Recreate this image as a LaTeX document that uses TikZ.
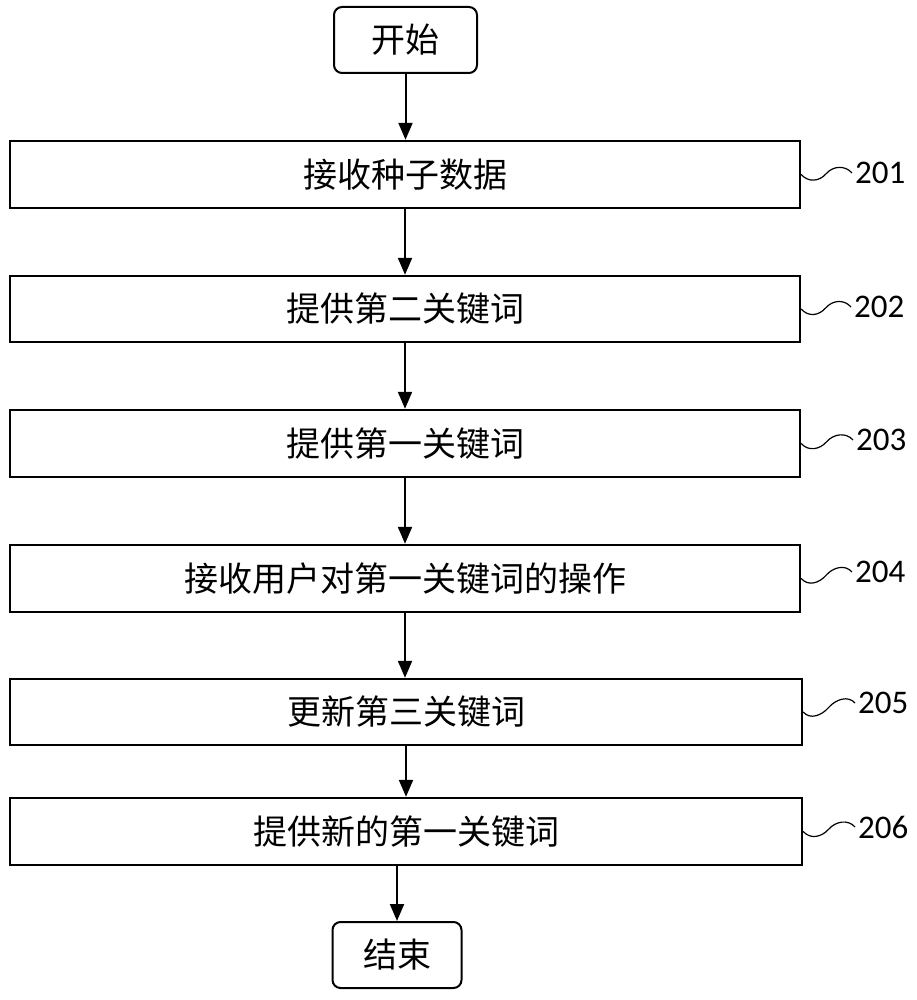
\documentclass[tikz,border=0pt]{standalone}
\usepackage{fontspec}
\newfontfamily\cjk{Noto Sans CJK SC}
\newfontfamily\numfont{Carlito}
\usetikzlibrary{arrows.meta,calc}
\begin{document}
\begin{tikzpicture}[x=1pt,y=1pt,
  stepbox/.style={draw,line width=2.4pt,minimum height=67pt,minimum width=790pt,inner sep=0pt,
     font=\cjk\fontsize{34}{40}\selectfont},
  termbox/.style={draw,line width=2pt,rounded corners=8pt,minimum height=66pt,inner sep=0pt,
     font=\cjk\fontsize{34}{40}\selectfont},
  lab/.style={anchor=west,inner sep=0pt,font=\numfont\fontsize{33}{38}\selectfont},
  flow/.style={line width=2pt,-{Triangle[length=17pt,width=14pt]}},
  squig/.style={line width=1.2pt}]
\useasboundingbox (0,0) rectangle (917,-1000);
\node[termbox,minimum width=143pt] (s) at (405.5,-40) {开始};
\node[stepbox] (b1) at (405,-174.5) {接收种子数据};
\node[stepbox,minimum height=66pt] (b2) at (405,-309) {提供第二关键词};
\node[stepbox] (b3) at (405,-443.5) {提供第一关键词};
\node[stepbox] (b4) at (405,-578.5) {接收用户对第一关键词的操作};
\node[stepbox,minimum height=66pt,minimum width=792pt] (b5) at (406,-712) {更新第三关键词};
\node[stepbox,minimum width=792pt] (b6) at (406,-831.5) {提供新的第一关键词};
\node[termbox,minimum width=129pt] (e) at (397,-955) {结束};
\node[lab] (l1) at (855,-173) {201};
\node[lab] (l2) at (854,-307) {202};
\node[lab] (l3) at (856,-440) {203};
\node[lab] (l4) at (855,-572) {204};
\node[lab] (l5) at (858,-703) {205};
\node[lab] (l6) at (858,-827) {206};
\draw[flow] (s.south) -- (s.south |- b1.north);
\draw[flow] (b1.south) -- (b2.north);
\draw[flow] (b2.south) -- (b3.north);
\draw[flow] (b3.south) -- (b4.north);
\draw[flow] (b4.south) -- (b4.south |- b5.north);
\draw[flow] (b5.south) -- (b6.north);
\draw[flow] (b6.south -| e.north) -- (e.north);
\foreach \b/\l in {b1/l1,b2/l2,b3/l3,b4/l4,b5/l5,b6/l6}{
  \draw[squig] (\b.east) .. controls +(7,-8) and +(-7,-8) .. ($(\b.east)!0.5!(\l.west)+(-2,0)$)
     .. controls +(7,8) and +(-7,8) .. ($(\l.west)+(-3,0)$);
}
\end{tikzpicture}
\end{document}
